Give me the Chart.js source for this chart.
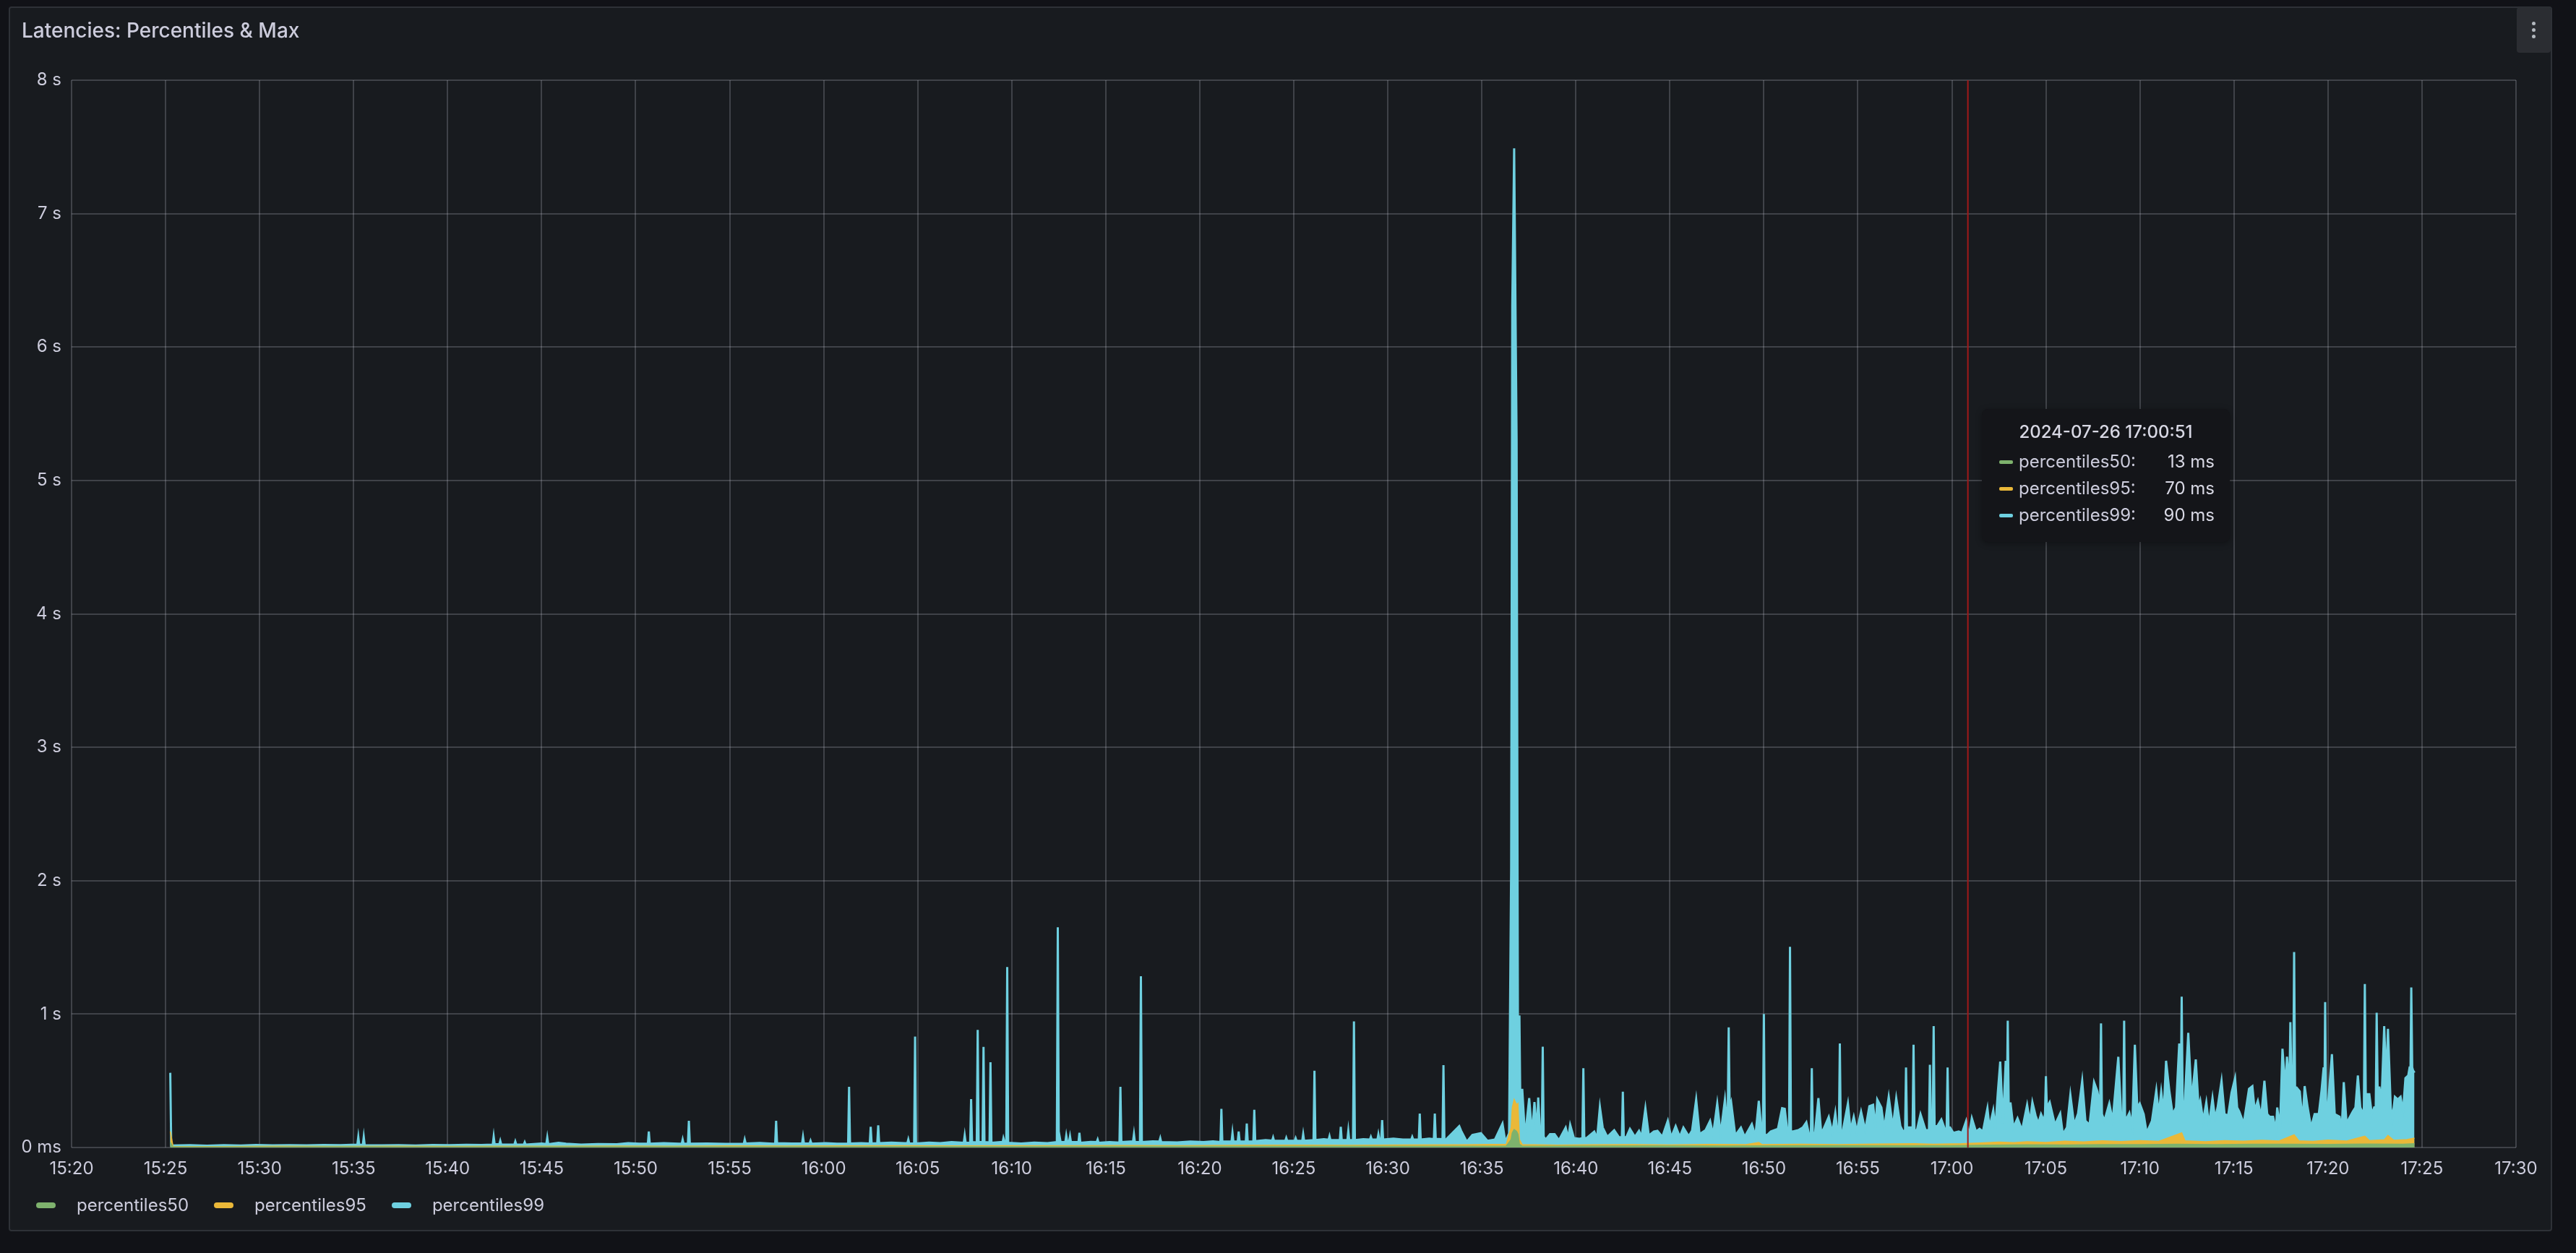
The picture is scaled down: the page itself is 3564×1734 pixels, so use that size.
<!DOCTYPE html>
<html>
<head>
<meta charset="utf-8">
<script src="https://cdn.jsdelivr.net/npm/chart.js@4.4.1/dist/chart.umd.min.js"></script>
<style>
html,body{margin:0;padding:0;background:#111217;width:3564px;height:1734px;overflow:hidden;font-family:Inter,"Noto Sans",sans-serif;color:#ccccdc;}
#panel{position:absolute;left:12px;top:9px;width:3519px;height:1695px;background:#181b1f;border:2px solid rgba(204,204,220,0.13);border-radius:4px;box-sizing:border-box;}
#title{position:absolute;left:30px;top:28px;font-size:28px;line-height:28px;font-weight:500;color:#ccccdc;white-space:nowrap;z-index:3;}
#menu{position:absolute;left:3482px;top:10px;width:47px;height:63px;background:#2b2d32;border-radius:4px;z-index:3;}
#menu i{position:absolute;left:21px;width:5px;height:5px;border-radius:50%;background:#b3b8bf;}
#c{position:absolute;left:0;top:0;z-index:1;}
#legend{position:absolute;left:50px;top:1652px;height:32px;display:flex;align-items:center;z-index:3;}
#legend .mk{display:inline-block;width:27px;height:8px;border-radius:4px;margin-right:29px;}
#legend .lt{font-size:24px;line-height:32px;margin-right:35px;color:#ccccdc;white-space:nowrap;}
#tip{position:absolute;left:2742px;top:566px;width:343px;height:184px;background:#141519;border-radius:8px;z-index:3;box-shadow:0 2px 8px rgba(0,0,0,0.35);}
#tip .hdr{position:absolute;left:0;top:16px;width:100%;text-align:center;font-size:24px;line-height:32px;font-weight:500;color:#d8d8e4;}
#tip .row{position:absolute;left:0;width:100%;height:32px;font-size:24px;line-height:32px;}
#tip .row .mk{position:absolute;left:24px;top:14px;width:19px;height:5px;border-radius:2px;}
#tip .row .lb{position:absolute;left:51px;top:0;color:#ccccdc;}
#tip .row .vl{position:absolute;right:21px;top:0;color:#d8d8e4;}
</style>
</head>
<body>
<div id="panel"></div>
<div id="title">Latencies: Percentiles &amp; Max</div>
<div id="menu"><i style="top:20px"></i><i style="top:29px"></i><i style="top:38px"></i></div>
<canvas id="c" width="3564" height="1734"></canvas>
<div id="legend"></div>
<div id="tip"></div>
<script>
// ---- series / labels ----
const seriesNames = ['percentiles50', 'percentiles95', 'percentiles99'];
const seriesColors = ['#7EB26D', '#EAB839', '#6ED0E0'];
const xTickLabels = ['15:20','15:25','15:30','15:35','15:40','15:45','15:50','15:55','16:00','16:05','16:10','16:15','16:20','16:25','16:30','16:35','16:40','16:45','16:50','16:55','17:00','17:05','17:10','17:15','17:20','17:25','17:30'];
const xTickStepMin = 5;
const yTickLabels = ['0 ms','1 s','2 s','3 s','4 s','5 s','6 s','7 s','8 s'];
const yTickStepMs = 1000;
const tooltipTitle = '2024-07-26 17:00:51';
const tooltipMinute = 100.85; // minutes after 15:20
const tooltipValues = ['13 ms', '70 ms', '90 ms'];

// times are minutes after 15:20, values are milliseconds
const p99T = [
5.25,5.3,6.3,7.2,8.1,9.0,9.8,10.7,11.6,12.5,13.4,14.3,15.2,15.25,15.3,15.49,15.54,15.59,16.5,17.4,18.3,19.2,20.1,21.0,21.8,22.4,22.45,22.5,22.75,22.8,22.85,23.55,23.6,23.65,24.05,24.1,24.15,25.0,25.25,25.3,25.35,25.9,26.3,27.1,28.0,29.0,29.6,30.2,30.65,30.7,30.75,31.5,32.3,32.45,32.5,32.55,32.78,32.83,32.88,33.8,34.8,35.75,35.8,35.85,36.6,37.3,37.42,37.47,37.52,38.3,38.85,38.9,38.95,39.25,39.3,39.35,
40.1,40.7,41.3,41.35,41.4,42.0,42.45,42.5,42.55,42.85,42.9,42.95,43.6,44.3,44.45,44.5,44.55,44.81,44.86,44.91,45.6,46.2,46.8,47.45,47.5,47.55,47.79,47.84,47.89,48.14,48.19,48.24,48.45,48.5,48.55,48.82,48.87,48.92,49.4,49.52,49.56,49.62,49.71,49.76,49.81,50.5,51.2,51.9,52.4,52.45,52.5,52.6,52.85,52.9,52.95,53.05,53.1,53.15,53.55,53.6,53.65,54.2,54.52,54.57,54.62,55.2,55.73,55.78,55.83,56.3,56.45,56.5,56.55,56.82,56.87,56.92,57.5,57.85,57.9,57.95,58.8,59.5,60.2,60.7,61.1,61.15,61.2,61.69,61.74,61.79,62.02,62.07,62.12,62.45,62.5,62.55,62.85,62.9,62.95,63.5,63.85,63.9,63.95,64.55,64.6,64.65,65.05,65.1,65.15,65.45,65.5,65.55,66.05,66.1,66.15,66.6,66.85,66.9,66.95,67.45,67.5,67.55,67.85,67.9,67.95,68.15,68.2,68.25,68.7,69.05,69.1,69.15,69.45,69.5,69.55,69.65,69.7,69.75,70.3,70.8,71.25,71.3,71.35,71.65,71.7,71.75,72.2,72.45,72.5,72.55,72.91,72.96,73.01,73.1,
73.8,73.9,74.2,74.5,74.95,75.3,75.7,76.1,76.25,76.45,76.56,76.62,76.72,76.85,76.92,77.0,77.05,77.15,77.3,77.52,77.67,77.8,77.93,78.0,78.1,78.19,78.24,78.29,78.4,78.63,78.87,79.1,79.46,79.6,79.7,79.9,80.2,80.35,80.4,80.45,80.56,80.98,81.13,81.28,81.43,81.67,82.04,82.3,82.45,82.5,82.55,82.68,82.88,83.14,83.36,83.5,83.7,83.88,84.15,84.34,84.6,84.89,85.07,85.31,85.53,85.72,86.0,86.18,86.4,86.58,86.9,87.14,87.3,87.52,87.7,87.93,88.03,88.08,88.13,88.18,88.26,88.48,88.78,88.98,89.12,89.36,89.55,89.73,89.86,89.95,90.0,90.05,90.15,90.37,90.75,90.97,91.11,91.26,91.34,91.39,91.44,91.52,91.83,92.07,92.26,92.4,92.5,92.55,92.6,92.72,92.9,93.05,93.18,93.45,93.64,93.8,93.91,93.99,94.04,94.09,94.19,94.47,94.61,94.78,94.94,95.17,95.39,95.61,95.81,95.94,96.03,96.25,96.4,96.64,96.86,97.04,97.26,97.4,97.51,97.56,97.61,97.74,97.91,97.96,98.01,98.14,98.33,98.6,98.78,98.83,98.88,98.98,99.03,99.08,99.22,99.44,99.62,99.72,99.77,99.82,99.9,100.08,100.36,100.54,100.76,100.91,101.06,101.28,101.47,101.65,101.89,
102.0,102.2,102.31,102.44,102.57,102.72,102.86,102.92,102.97,103.02,103.12,103.27,103.49,103.73,104.0,104.15,104.28,104.45,104.6,104.74,104.89,104.95,105.0,105.05,105.2,105.48,105.76,105.9,106.12,106.3,106.5,106.71,106.93,107.1,107.32,107.56,107.74,107.88,107.93,107.98,108.11,108.37,108.55,108.85,109.0,109.11,109.16,109.21,109.3,109.44,109.59,109.73,109.86,109.99,110.2,110.36,110.64,110.87,111.0,111.13,111.26,111.39,111.56,111.74,111.92,112.09,112.17,112.22,112.27,112.38,112.57,112.75,112.97,113.12,113.21,113.36,113.53,113.67,113.86,113.99,114.13,114.34,114.5,114.69,114.87,115.06,115.17,115.28,115.52,115.8,115.98,116.1,116.27,116.45,116.62,116.77,116.9,117.08,117.23,117.3,117.45,117.58,117.73,117.82,117.95,118.0,118.07,118.15,118.2,118.25,118.33,118.5,118.65,118.76,118.92,119.1,119.29,119.51,119.66,119.77,119.81,119.85,119.9,119.99,120.21,120.36,120.62,120.73,120.84,120.99,121.13,121.32,121.46,121.59,121.72,121.87,121.91,121.96,122.01,122.09,122.2,122.33,122.46,122.54,122.59,122.64,122.74,122.85,122.99,123.1,123.19,123.34,123.43,123.56,123.71,123.86,123.99,124.12,124.27,124.34,124.39,124.43,124.48,124.52,124.6];
const p99V = [
560,15,18,14,17,15,19,16,18,16,19,17,21,80,20,20,80,18,16,18,15,19,17,20,19,22,82,25,24,50,22,22,45,22,22,40,22,30,26,75,25,35,28,22,26,24,32,28,30,120,28,32,28,28,60,28,28,200,28,30,27,28,60,30,34,29,30,200,32,30,30,80,30,30,50,28,
32,28,30,455,30,33,30,155,30,32,166,32,36,32,32,60,30,30,832,30,36,32,40,35,90,35,35,363,40,38,882,40,40,754,40,38,639,35,40,40,70,40,40,1353,35,30,36,32,40,1651,120,40,40,90,45,45,85,40,40,110,35,42,40,60,35,40,36,455,40,45,45,100,40,40,1283,40,46,45,70,40,38,44,40,46,40,290,45,45,110,45,45,120,45,45,180,45,45,283,48,55,52,75,50,50,72,50,50,70,50,50,100,50,55,575,55,62,58,85,55,55,155,55,55,125,55,55,945,55,62,60,80,60,60,100,60,60,205,60,66,60,60,80,60,60,254,60,66,62,254,65,62,617,60,60,
160,125,43,94,107,50,60,180,43,107,2090,6310,7490,5310,900,990,300,440,80,370,100,340,120,375,110,90,756,80,60,100,100,55,150,70,170,70,65,70,594,70,70,120,70,305,150,80,130,75,80,418,80,75,140,80,125,80,295,90,120,125,80,200,75,160,80,150,85,125,360,100,130,200,95,330,100,360,200,250,900,300,340,90,150,80,115,175,85,350,150,150,1000,100,90,120,140,295,290,110,120,1505,120,120,130,150,190,100,100,594,110,110,370,110,140,230,110,260,120,120,780,120,120,330,130,230,120,270,130,310,320,150,360,300,140,380,150,370,160,120,130,600,150,150,150,770,130,130,250,130,130,620,200,200,910,160,160,210,140,140,600,150,150,110,120,110,200,90,220,120,140,120,295,
150,280,140,410,644,180,650,300,950,330,330,150,220,130,320,190,340,240,180,250,200,250,535,300,340,170,255,100,150,395,170,255,500,200,170,490,420,300,930,250,200,330,200,680,250,250,950,230,220,260,160,770,300,330,250,110,200,430,250,420,260,650,430,250,300,780,350,1130,350,330,860,350,660,300,350,200,340,170,370,220,300,500,250,240,410,520,300,270,180,440,460,280,350,230,500,250,230,230,130,300,150,740,450,680,450,940,400,450,1465,450,450,420,200,460,300,150,250,250,430,600,350,1090,300,300,700,250,230,130,490,180,220,270,300,540,300,250,300,1225,400,400,400,250,300,300,1010,450,450,350,910,500,890,300,220,380,360,380,270,520,540,600,600,1200,600,580,560];

const p95T = [5.25,5.4,8,11,14,17,20,23,26,29,32,35,38,41,44,47,50,53,56,59,62,65,68,71,74,76.3,76.56,76.62,76.72,76.85,76.92,77.0,77.15,79,81,83,85,87,89,89.73,89.9,92,94,96,98,99,100.5,101.5,102.5,103.3,104,105,106,107,108,109,110,111,112.22,112.4,113.5,114.5,115.5,116.5,117.4,118.2,118.45,119.2,120,121,121.96,122.2,123,123.19,123.5,124.2,124.6];
const p95V = [120,8,7,9,8,9,8,10,10,11,10,12,11,12,13,12,14,13,15,14,16,17,16,19,20,25,150,300,360,320,330,60,22,18,20,22,19,23,21,38,22,24,22,26,28,25,28,34,40,36,44,38,48,42,50,45,52,46,110,50,44,52,47,54,49,95,50,46,55,49,85,52,58,90,54,60,70];

const p50T = [5.25,5.4,10,15,20,25,30,35,40,45,50,55,60,65,70,74,76.3,76.56,76.62,76.72,76.85,76.92,77.0,77.15,80,84,88,92,96,100,102,104,106,108,110,112,114,116,118,120,122,124,124.6];
const p50V = [40,4,4,5,4,5,6,5,6,7,7,8,8,9,10,10,11,60,110,135,120,100,25,10,11,12,11,13,14,13,17,20,19,22,21,24,22,25,24,23,26,25,28];

const seriesT = [p50T, p95T, p99T];
const seriesV = [p50V, p95V, p99V];

// ---- HTML legend + tooltip ----
const legend = document.getElementById('legend');
seriesNames.forEach((n, i) => {
  const mk = document.createElement('span'); mk.className = 'mk'; mk.style.background = seriesColors[i];
  const lt = document.createElement('span'); lt.className = 'lt'; lt.textContent = n;
  legend.appendChild(mk); legend.appendChild(lt);
});
const tip = document.getElementById('tip');
const hdr = document.createElement('div'); hdr.className = 'hdr'; hdr.textContent = tooltipTitle; tip.appendChild(hdr);
seriesNames.forEach((n, i) => {
  const row = document.createElement('div'); row.className = 'row'; row.style.top = (57 + i * 37) + 'px';
  row.innerHTML = '<span class="mk" style="background:' + seriesColors[i] + '"></span><span class="lb"></span><span class="vl"></span>';
  row.querySelector('.lb').textContent = n + ':';
  row.querySelector('.vl').textContent = tooltipValues[i];
  tip.appendChild(row);
});

// ---- chart ----
Chart.defaults.font.family = 'Inter';
const gridColor = 'rgba(204,204,220,0.22)';
const crosshair = {
  id: 'crosshair',
  afterDatasetsDraw(chart) {
    const x = chart.scales.x.getPixelForValue(tooltipMinute);
    const a = chart.chartArea, c = chart.ctx;
    c.save(); c.strokeStyle = '#a11a1a'; c.lineWidth = 2;
    c.beginPath(); c.moveTo(x, a.top); c.lineTo(x, a.bottom); c.stroke(); c.restore();
  }
};
new Chart(document.getElementById('c'), {
  type: 'line',
  data: {
    datasets: seriesNames.map((name, i) => ({
      label: name,
      data: seriesT[i].map((t, k) => ({ x: t, y: seriesV[i][k] })),
      borderColor: seriesColors[i],
      backgroundColor: seriesColors[i],
      borderWidth: i === 2 ? 3 : 1.5,
      pointRadius: 0,
      tension: 0,
      fill: 'origin'
    }))
  },
  options: {
    responsive: false,
    animation: false,
    devicePixelRatio: 1,
    layout: { padding: { left: 0, top: 111, right: 83, bottom: 86 } },
    plugins: { legend: { display: false }, tooltip: { enabled: false } },
    scales: {
      x: {
        type: 'linear', min: 0, max: (xTickLabels.length - 1) * xTickStepMin,
        afterFit(s) { s.height = 60; },
        border: { display: false },
        grid: { color: gridColor, lineWidth: 2, drawTicks: false },
        ticks: { stepSize: xTickStepMin, autoSkip: false, maxRotation: 0, padding: 15, color: '#ccccdc', font: { size: 24 },
          callback: (v) => xTickLabels[Math.round(v / xTickStepMin)] }
      },
      y: {
        min: 0, max: (yTickLabels.length - 1) * yTickStepMs,
        afterFit(s) { s.width = 99; },
        border: { display: false },
        grid: { color: gridColor, lineWidth: 2, drawTicks: false },
        ticks: { stepSize: yTickStepMs, padding: 14, color: '#ccccdc', font: { size: 24 },
          callback: (v) => yTickLabels[Math.round(v / yTickStepMs)] }
      }
    }
  },
  plugins: [crosshair]
});
</script>
</body>
</html>
